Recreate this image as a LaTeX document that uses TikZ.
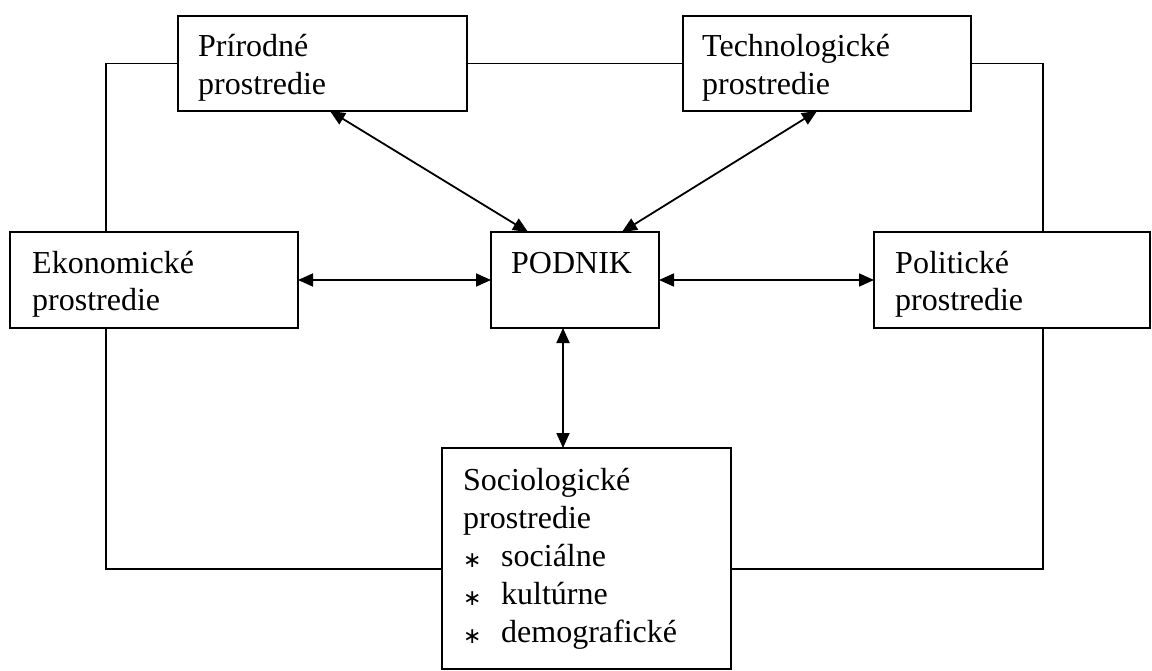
\documentclass[tikz,border=0pt]{standalone}
\usepackage{fontspec}
\setmainfont{Liberation Serif}
\newfontfamily\symfont{DejaVu Sans}
\usetikzlibrary{arrows.meta}

% text block whose baseline is that of its first line
\newcommand\stack[1]{\begin{tabular}[t]{@{}l@{}}#1\end{tabular}}
% list item with an asterisk bullet
\newcommand\bul[1]{\makebox[38pt][l]{\raisebox{-1pt}{\symfont\fontsize{22pt}{22pt}\selectfont ∗}}#1}

\begin{document}
\begin{tikzpicture}[x=1pt, y=-1pt,
  box/.style={draw, rectangle, line width=1.8pt, inner sep=0pt, outer sep=0pt},
  txt/.style={anchor=base west, inner sep=0pt, font=\fontsize{32pt}{38pt}\selectfont},
  conn/.style={line width=1.8pt},
  link/.style={conn, {Triangle[length=15pt,width=13pt]}-{Triangle[length=15pt,width=13pt]}}]

  \useasboundingbox (0,0) rectangle (1152,671);

  % boxes
  \node[box, minimum width=289pt, minimum height=95pt]  (prir) at (322.5,63.5) {};
  \node[box, minimum width=288pt, minimum height=95pt]  (tech) at (827,63.5) {};
  \node[box, minimum width=288pt, minimum height=96pt]  (eko)  at (154,280) {};
  \node[box, minimum width=168pt, minimum height=96pt]  (pod)  at (575,280) {};
  \node[box, minimum width=276pt, minimum height=96pt]  (pol)  at (1012,280) {};
  \node[box, minimum width=289pt, minimum height=221pt] (soc)  at (586.5,558.5) {};

  % texts
  \node[txt] (prirT) at (198,57)  {\stack{Prírodné\\prostredie}};
  \node[txt] (techT) at (702,57)  {\stack{Technologické\\prostredie}};
  \node[txt] (ekoT)  at (32,273)  {\stack{Ekonomické\\prostredie}};
  \node[txt] (podT)  at (511,273) {PODNIK};
  \node[txt] (polT)  at (895,273) {\stack{Politické\\prostredie}};
  \node[txt] (socT)  at (463,490) {\stack{Sociologické\\prostredie\\\bul{sociálne}\\\bul{kultúrne}\\\bul{demografické}}};

  % surrounding frame
  \coordinate (tl) at (106,63.5);
  \coordinate (tr) at (1043,63.5);
  \coordinate (bl) at (106,569);
  \coordinate (br) at (1043,569);
  \draw[conn] (prir.west) -- (tl) -- (tl |- eko.north);
  \draw[conn] (tl |- eko.south) -- (bl) -- (soc.west |- bl);
  \draw[conn] (prir.east) -- (tech.west);
  \draw[conn] (tech.east) -- (tr) -- (tr |- pol.north);
  \draw[conn] (tr |- pol.south) -- (br) -- (soc.east |- br);

  % two-way links with PODNIK
  \draw[link] ([xshift=7.5pt]prir.south) -- ([xshift=-47pt]pod.north);
  \draw[link] ([xshift=-10pt]tech.south) -- ([xshift=47pt]pod.north);
  \draw[link] (eko.east) -- (pod.west);
  \draw[link] (pod.east) -- (pol.west);
  \draw[link] ([xshift=-12pt]pod.south) -- ([xshift=-12pt]pod.south |- soc.north);
\end{tikzpicture}
\end{document}
